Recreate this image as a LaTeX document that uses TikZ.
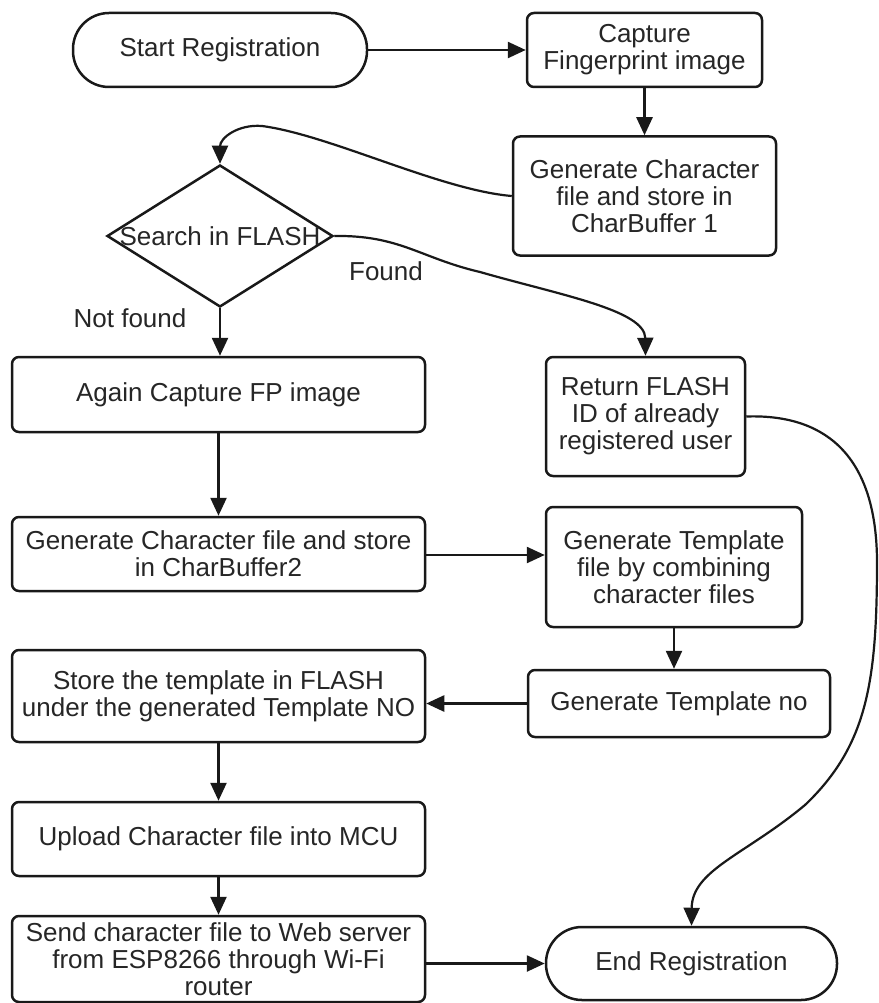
\documentclass[tikz,border=0pt]{standalone}
\usepackage{fontspec}
\setmainfont{Liberation Sans}
\usetikzlibrary{shapes.geometric,arrows.meta}
\begin{document}
\begin{tikzpicture}[x=1pt,y=-1pt,
  every node/.style={font=\fontsize{26}{27}\selectfont, text=black!85},
  box/.style={draw=black!90, rounded corners=7pt, line width=2.5pt, align=center, inner sep=0pt},
  stadium/.style={draw=black!90, rounded corners=36pt, line width=2.5pt, align=center, inner sep=0pt},
  decision/.style={draw=black!90, diamond, line width=2.5pt, inner sep=0pt},
  lbl/.style={inner sep=0pt},
  arr/.style={draw=black!90, line width=2.5pt, -{Triangle[length=18pt,width=16pt]}},
  conn/.style={draw=black!90, line width=2.2pt, -{Triangle[length=18pt,width=16pt]}}
]
\useasboundingbox (0,0) rectangle (878,1003);
\fill[white] (0,0) rectangle (878,1003);

% nodes
\node[stadium, minimum width=294pt, minimum height=74pt] (start) at (220,50) {Start Registration};
\node[box, minimum width=235pt, minimum height=74pt] (capture) at (644.5,50) {Capture\\Fingerprint image};
\node[box, minimum width=263pt, minimum height=119pt] (gen1) at (644.5,196) {Generate Character\\file and store in\\CharBuffer 1};
\node[decision, minimum width=226pt, minimum height=142pt] (search) at (220,236) {};
\node[lbl] (searchtext) at (search.center) {Search in FLASH};
\node[lbl] (found) at (386,271) {Found};
\node[lbl] (notfound) at (130,318) {Not found};
\node[box, minimum width=413pt, minimum height=75pt] (again) at (218.5,394.5) {Again Capture FP image};
\node[box, minimum width=199pt, minimum height=119pt] (ret) at (645.5,416.5) {Return FLASH\\ID of already\\registered user};
\node[box, minimum width=413pt, minimum height=74pt] (gen2) at (218.5,554) {Generate Character file and store\\in CharBuffer2};
\node[box, minimum width=256pt, minimum height=120pt] (tmpl) at (674,567) {Generate Template\\file by combining\\character files};
\node[box, minimum width=302pt, minimum height=67pt] (tmplno) at (679,703.5) {Generate Template no};
\node[box, minimum width=413pt, minimum height=92pt] (store) at (218.5,696) {Store the template in FLASH\\under the generated Template NO};
\node[box, minimum width=413pt, minimum height=74pt] (upload) at (218.5,839) {Upload Character file into MCU};
\node[box, minimum width=413pt, minimum height=86pt] (send) at (218.5,959) {Send character file to Web server\\from ESP8266 through Wi-Fi\\router};
\node[stadium, minimum width=291pt, minimum height=73pt] (end) at (691.5,963.5) {End Registration};

% straight connectors
\draw[arr] (start.east) -- (capture.west);
\draw[arr] (capture.south) -- (gen1.north);
\draw[arr] (search.south) -- (search.south |- again.north);
\draw[arr] (again.south) -- (gen2.north);
\draw[arr] ([yshift=-1pt]gen2.east) -- ([yshift=-1pt]gen2.east -| tmpl.west);
\draw[arr] (tmpl.south) -- (tmpl.south |- tmplno.north);
\draw[arr] (tmplno.west) -- (tmplno.west -| store.east);
\draw[arr] (store.south) -- (upload.north);
\draw[arr] (upload.south) -- (send.north);
\draw[arr] (end.west -| send.east) -- (end.west);

% curved connectors
\draw[conn] (gen1.west) .. controls (440,190) and (330,135) .. (262,126)
  .. controls (238,124) and (220,138) .. (search.north);
\draw[conn] (search.east) .. controls (400,235) and (420,258) .. (480,272)
  .. controls (560,295) and (645,310) .. (ret.north);
\draw[conn] (ret.east) .. controls (820,414) and (876,450) .. (877,560)
  .. controls (877,680) and (868,745) .. (805,805)
  .. controls (745,855) and (692,870) .. (end.north);
\end{tikzpicture}
\end{document}
